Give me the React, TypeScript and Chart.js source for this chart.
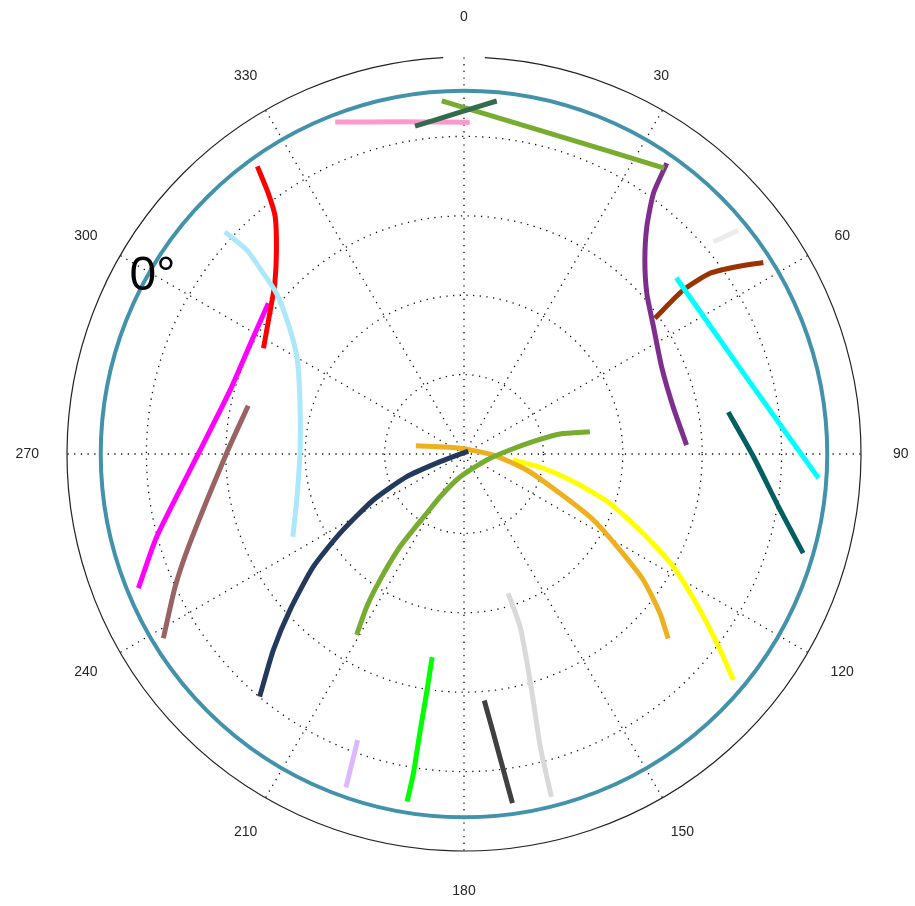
import React, { useEffect, useRef } from 'react';
import { Chart, registerables } from 'chart.js';

Chart.register(...registerables);

// ---- polar frame ----
const AZ_TICKS = [0, 30, 60, 90, 120, 150, 180, 210, 240, 270, 300, 330];
const AZ_LABELS = ['0', '30', '60', '90', '120', '150', '180', '210', '240', '270', '300', '330'];
const AZ_LABEL_SHIFT = [0, -21, 0, 0, 0, 0, 0, 0, 0, 0, 0, 0];
const RING_STEPS = [20, 40, 60, 80];
const R_MAX = 100;
const HORIZON_R = 91.5;
const HORIZON_LABEL = '0°';
const HORIZON_LABEL_AZ = 300;
const LABEL_R = 110;

// ---- satellite tracks: [azimuth (deg, clockwise from north), radius] ----
type Pt = [number, number];

const trackLightBlue: Pt[] = [
  [312.9, 82.2], [313.2, 75.1], [312.0, 68.0], [310.6, 62.2], [306.6, 55.2],
  [300.2, 48.7], [288.2, 43.5], [271.4, 41.3], [254.6, 43.7], [244.2, 47.9],
];
const trackRed: Pt[] = [
  [324.3, 89.2], [323.1, 82.1], [321.5, 76.4], [317.4, 69.8], [312.1, 64.2],
  [307.4, 61.2], [297.8, 57.1],
];
const trackMagenta: Pt[] = [
  [307.6, 62.2], [299.1, 60.7], [285.6, 61.0], [270.6, 66.6], [254.9, 80.2], [247.6, 88.7],
];
const trackRose: Pt[] = [
  [282.6, 55.7], [270.2, 59.8], [252.0, 72.6], [245.3, 80.1], [238.5, 88.8],
];
const trackDarkGreen: Pt[] = [[351.5, 83.5], [358.7, 85.8], [5.3, 89.3]];
const trackPink: Pt[] = [[338.8, 89.7], [349.1, 85.2], [1.0, 83.6]];
const trackYellowGreen: Pt[] = [[356.4, 89.1], [15.9, 83.6], [35.0, 87.9]];
const trackPurple: Pt[] = [
  [34.9, 89.3], [36.0, 81.2], [38.8, 73.5], [43.0, 66.8], [48.7, 61.3],
  [56.1, 57.5], [66.2, 54.4], [77.3, 54.0], [87.7, 56.1],
];
const trackPaleGrey: Pt[] = [[49.6, 82.5], [50.8, 89.2]];
const trackCyan: Pt[] = [[50.3, 69.5], [75.0, 73.8], [93.9, 89.5]];
const trackBrown: Pt[] = [[54.6, 59.0], [53.2, 69.0], [53.7, 76.9], [55.5, 83.3], [57.4, 89.5]];
const trackTeal: Pt[] = [[81.0, 67.4], [90.5, 72.9], [99.5, 80.3], [106.3, 89.0]];
const trackNavy: Pt[] = [
  [55.1, 1.3], [252.2, 6.3], [248.4, 15.5], [243.1, 25.6], [237.4, 37.1],
  [233.2, 47.4], [228.1, 58.9], [224.2, 68.9], [220.1, 79.9],
];
const trackOlive: Pt[] = [
  [80.0, 32.2], [78.2, 24.7], [79.6, 18.2], [85.0, 11.6], [104.8, 5.9], [189.9, 5.9],
  [209.2, 12.4], [212.2, 17.7], [214.6, 28.4], [213.7, 38.1], [212.5, 45.6], [210.7, 53.0],
];
const trackOrange: Pt[] = [
  [279.8, 12.3], [324.9, 1.8], [92.0, 7.4], [104.3, 16.3], [112.3, 26.1],
  [117.0, 36.6], [121.6, 46.1], [125.1, 55.2], [129.1, 63.6], [132.1, 69.3],
];
const trackYellow: Pt[] = [
  [96.9, 12.5], [100.2, 20.3], [104.6, 29.3], [108.7, 38.8], [113.9, 49.4],
  [118.3, 59.9], [123.5, 71.3], [127.4, 81.2], [130.0, 88.6],
];
const trackSilver: Pt[] = [
  [162.4, 36.8], [162.0, 45.7], [163.1, 54.2], [164.3, 64.4], [165.4, 76.2], [165.7, 89.1],
];
const trackCharcoal: Pt[] = [[175.3, 62.3], [174.0, 70.7], [172.9, 80.2], [172.1, 88.8]];
const trackLime: Pt[] = [
  [188.9, 51.8], [188.9, 61.0], [189.0, 71.2], [189.0, 81.4], [189.3, 88.7],
];
const trackLavender: Pt[] = [[200.4, 76.9], [199.5, 89.1]];

// first entry is drawn on top
const TRACKS: { color: string; pts: Pt[] }[] = [
  { color: '#aae8fa', pts: trackLightBlue },
  { color: '#ff0000', pts: trackRed },
  { color: '#ff00ff', pts: trackMagenta },
  { color: '#9a6262', pts: trackRose },
  { color: '#336b50', pts: trackDarkGreen },
  { color: '#ff99cc', pts: trackPink },
  { color: '#77ac30', pts: trackYellowGreen },
  { color: '#00ffff', pts: trackCyan },
  { color: '#993300', pts: trackBrown },
  { color: '#7e2f8e', pts: trackPurple },
  { color: '#ececec', pts: trackPaleGrey },
  { color: '#006060', pts: trackTeal },
  { color: '#233a5e', pts: trackNavy },
  { color: '#77ac30', pts: trackOlive },
  { color: '#edb120', pts: trackOrange },
  { color: '#ffff00', pts: trackYellow },
  { color: '#d9d9d9', pts: trackSilver },
  { color: '#404040', pts: trackCharcoal },
  { color: '#00ff00', pts: trackLime },
  { color: '#ddb8ff', pts: trackLavender },
];

const rad = (d: number) => (d * Math.PI) / 180;
const toXY = ([az, r]: Pt) => ({ x: r * Math.sin(rad(az)), y: r * Math.cos(rad(az)) });

const polarFrame = {
  id: 'polarFrame',
  beforeDatasetsDraw(chart: any) {
    const { ctx } = chart;
    const sx = chart.scales.x;
    const sy = chart.scales.y;
    const px = (az: number, r: number) => sx.getPixelForValue(r * Math.sin(rad(az)));
    const py = (az: number, r: number) => sy.getPixelForValue(r * Math.cos(rad(az)));
    const cx = sx.getPixelForValue(0);
    const cy = sy.getPixelForValue(0);
    const unit = (sx.getPixelForValue(R_MAX) - cx) / R_MAX;

    ctx.save();
    // dotted rings and spokes
    ctx.strokeStyle = '#111';
    ctx.lineWidth = 1.3;
    ctx.setLineDash([1.3, 5.4]);
    RING_STEPS.forEach((r) => {
      ctx.beginPath();
      ctx.arc(cx, cy, r * unit, 0, Math.PI * 2);
      ctx.stroke();
    });
    AZ_TICKS.forEach((az) => {
      ctx.beginPath();
      ctx.moveTo(cx, cy);
      ctx.lineTo(px(az, R_MAX), py(az, R_MAX));
      ctx.stroke();
    });
    ctx.setLineDash([]);

    // outer boundary, open at north
    const gap = rad(3);
    ctx.strokeStyle = '#222';
    ctx.lineWidth = 1.2;
    ctx.beginPath();
    ctx.arc(cx, cy, R_MAX * unit, -Math.PI / 2 + gap, Math.PI * 1.5 - gap);
    ctx.stroke();

    // horizon circle
    ctx.strokeStyle = '#4292ac';
    ctx.lineWidth = 4;
    ctx.beginPath();
    ctx.arc(cx, cy, HORIZON_R * unit, 0, Math.PI * 2);
    ctx.stroke();

    // azimuth labels
    ctx.fillStyle = '#262626';
    ctx.font = '14px "Liberation Sans", Arial, sans-serif';
    ctx.textAlign = 'center';
    ctx.textBaseline = 'middle';
    AZ_TICKS.forEach((az, i) => {
      ctx.fillText(AZ_LABELS[i], px(az, LABEL_R) + AZ_LABEL_SHIFT[i], py(az, LABEL_R));
    });

    // horizon label
    ctx.fillStyle = '#000';
    ctx.font = '48px "Liberation Sans", Arial, sans-serif';
    ctx.textBaseline = 'alphabetic';
    ctx.fillText(HORIZON_LABEL, px(HORIZON_LABEL_AZ, HORIZON_R) + 3, py(HORIZON_LABEL_AZ, HORIZON_R) + 18);
    ctx.restore();
  },
};

export default function App() {
  const ref = useRef<HTMLCanvasElement | null>(null);

  useEffect(() => {
    const prevMargin = document.body.style.margin;
    document.body.style.margin = '0';
    const canvas = ref.current;
    if (!canvas) return;
    const chart = new Chart(canvas, {
      type: 'scatter',
      data: {
        datasets: TRACKS.map((t) => ({
          data: t.pts.map(toXY),
          borderColor: t.color,
          backgroundColor: t.color,
          borderWidth: 5,
          showLine: true,
          pointRadius: 0,
          pointHoverRadius: 0,
          tension: 0.2,
          borderCapStyle: 'butt' as const,
        })),
      },
      options: {
        animation: false,
        responsive: false,
        maintainAspectRatio: false,
        layout: { padding: { left: 67, right: 54, top: 57, bottom: 55 } },
        plugins: { legend: { display: false }, tooltip: { enabled: false } },
        scales: {
          x: { type: 'linear', min: -R_MAX, max: R_MAX, display: false },
          y: { type: 'linear', min: -R_MAX, max: R_MAX, display: false },
        },
      },
      plugins: [polarFrame],
    });
    return () => {
      chart.destroy();
      document.body.style.margin = prevMargin;
    };
  }, []);

  return (
    <div style={{ width: 915, height: 906, background: '#fff' }}>
      <canvas ref={ref} width={915} height={906} style={{ display: 'block' }} />
    </div>
  );
}
